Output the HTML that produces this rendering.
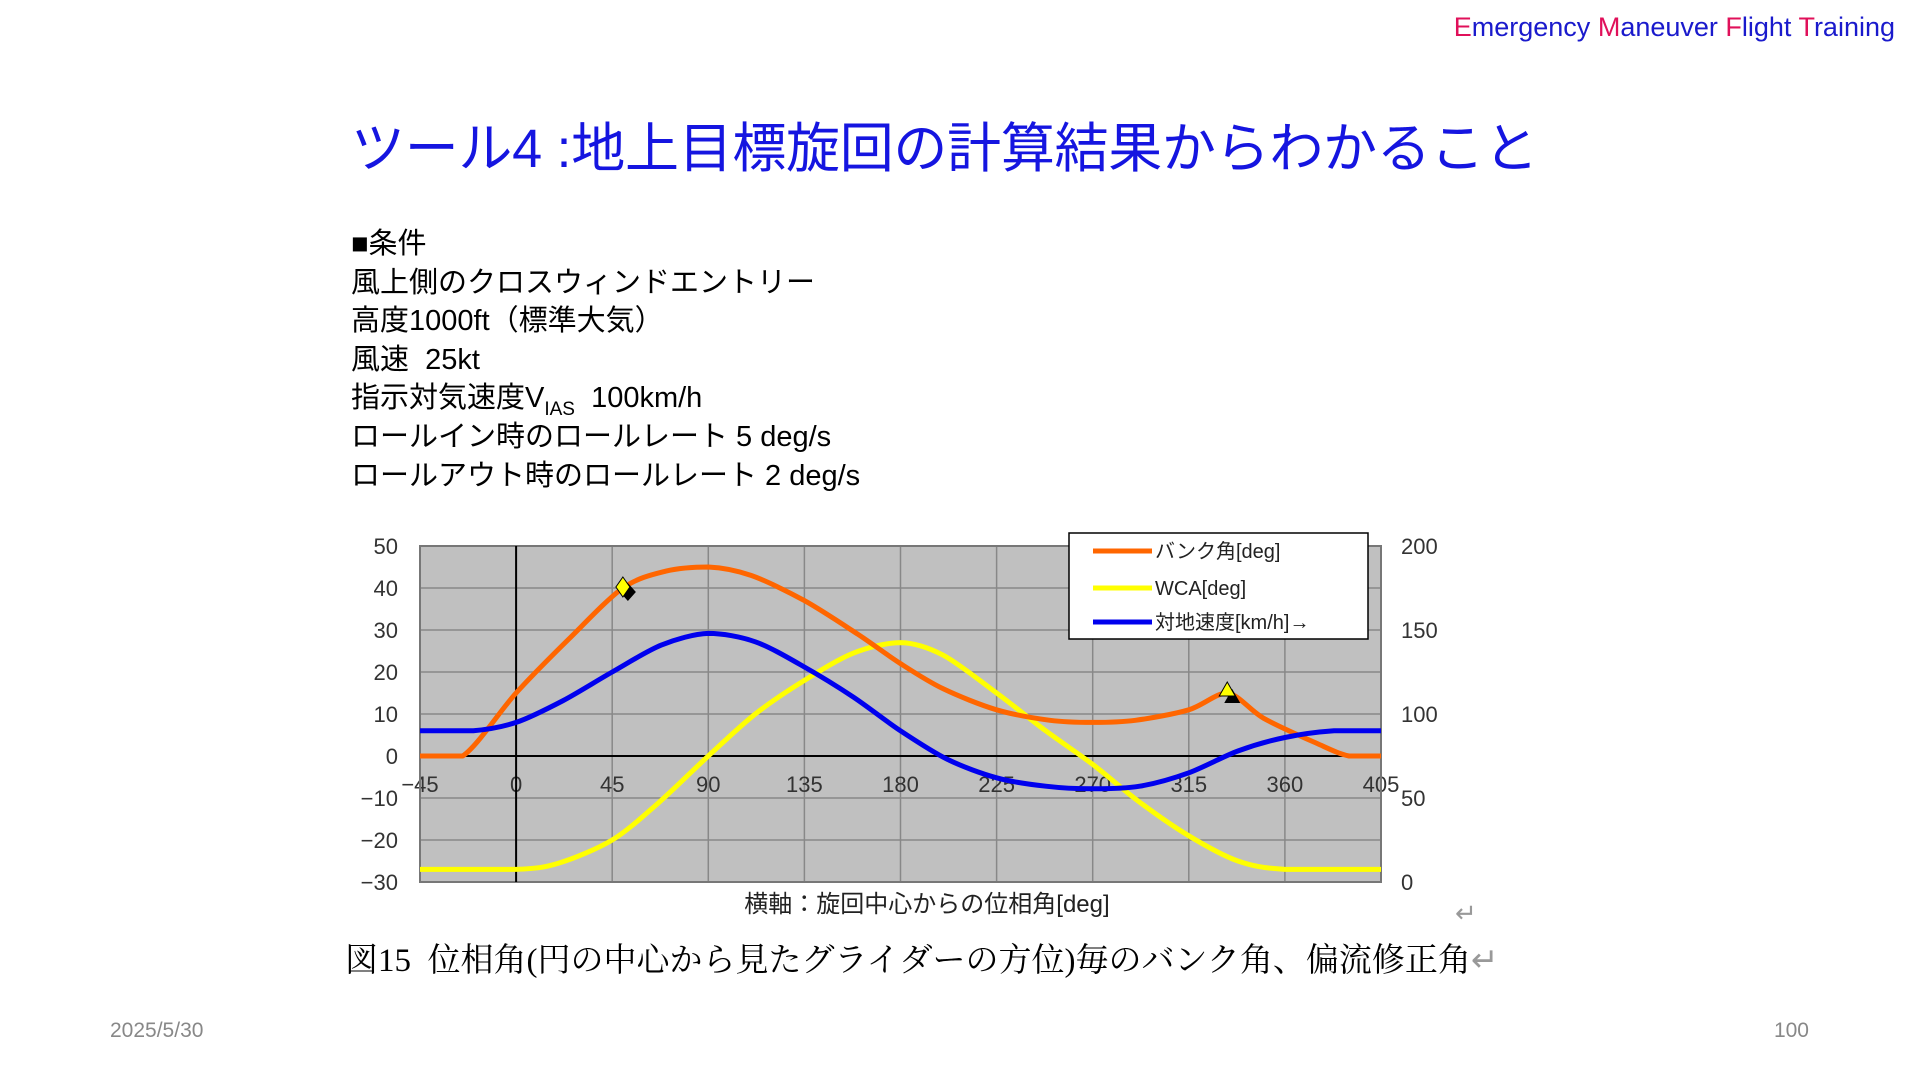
<!DOCTYPE html>
<html><head><meta charset="utf-8">
<style>
body{margin:0;width:1920px;height:1080px;background:#fff;position:relative;overflow:hidden;font-family:"Liberation Sans","Noto Sans CJK JP",sans-serif}
.abs{position:absolute;white-space:nowrap}
#hdr{right:25px;top:12px;font-size:27px;color:#1a1acc}
#hdr .r{color:#e0105a}
#title{left:351px;top:117px;font-size:54px;color:#1515e0;line-height:64px;letter-spacing:-0.3px}
#cond{left:351px;top:225px;font-size:29px;line-height:38.6px;color:#000}
#cond sub{font-size:19px;vertical-align:-8px;line-height:0}
#caption{left:345px;top:934px;font-size:33px;font-family:"Liberation Serif","Noto Serif CJK SC",serif;color:#000}
.gray{color:#999}
#date{left:110px;top:1019px;font-size:21px;color:#888}
#page{right:111px;top:1019px;font-size:21px;color:#888}
</style></head><body>
<div class="abs" id="hdr"><span class="r">E</span>mergency <span class="r">M</span>aneuver <span class="r">F</span>light <span class="r">T</span>raining</div>
<div class="abs" id="title">ツール4 :地上目標旋回の計算結果からわかること</div>
<div class="abs" id="cond">■条件<br>風上側のクロスウィンドエントリー<br>高度1000ft（標準大気）<br>風速&nbsp;&nbsp;25kt<br>指示対気速度V<sub>IAS</sub>&nbsp;&nbsp;100km/h<br>ロールイン時のロールレート 5 deg/s<br>ロールアウト時のロールレート 2 deg/s</div>
<svg id="chart" class="abs" style="left:0;top:0" width="1920" height="1080"></svg>
<div class="abs" id="caption">図15&nbsp;&nbsp;位相角(円の中心から見たグライダーの方位)毎のバンク角、偏流修正角<span class="gray">↵</span></div>
<div class="abs gray" style="left:1455px;top:898px;font-size:26px">↵</div>
<div class="abs" id="date">2025/5/30</div>
<div class="abs" id="page">100</div>
<script>
const xTicks=[-45,0,45,90,135,180,225,270,315,360,405];
const yLeftTicks=[50,40,30,20,10,0,-10,-20,-30];
const yRightTicks=[200,150,100,50,0];
const bankX=[-45,-25,0,25,50,70,90,110,135,160,180,200,225,250,270,290,315,333,350,375,390,405];
const bankY=[0,0,15,28,40,44,45,43,37,29,22,16,11,8.5,8,8.5,11,15,9,3,0,0];
const wcaX=[-45,0,20,45,67,90,112,135,158,180,200,225,248,270,292,315,338,360,405];
const wcaY=[-27,-27,-25.5,-20,-11,0,10,18,24.5,27,24,15,6,-2,-11,-19,-25,-27,-27];
const gsX=[-45,-20,0,22,45,68,90,112,135,158,180,202,225,248,270,292,315,338,360,383,405];
const gsY=[90,90,95,108,125,141,148,143,128,110,90,73,62,57,55.5,57,65,78,86,90,90];
const legendLabels=["バンク角[deg]","WCA[deg]","対地速度[km/h]→"];
const diamondPt=[50,40];
const trianglePt=[333,15];

const L=420,R=1381,T=546,B=882;
const sx=v=>L+(v+45)/450*(R-L);
const sy=v=>T+(50-v)/80*(B-T);
const sy2=v=>T+(200-v)/200*(B-T);
const svg=document.getElementById('chart');
const NS='http://www.w3.org/2000/svg';
function mk(tag,attrs,parent){const e=document.createElementNS(NS,tag);for(const k in attrs)e.setAttribute(k,attrs[k]);(parent||svg).appendChild(e);return e;}
const F='"Liberation Sans","Noto Sans CJK JP",sans-serif';

let bg=mk('rect',{x:L,y:T,width:R-L,height:B-T,fill:'#c0c0c0'});


yLeftTicks.forEach(v=>{
  let g=mk('line',{x1:L,x2:R,y1:sy(v),y2:sy(v),stroke:'#888','stroke-width':1.5});
  
  
  let t=mk('text',{x:398,y:sy(v)+8,'text-anchor':'end','font-size':22,fill:'#333','font-family':F});
  t.textContent=String(v).replace('-','−');
  
  
});
xTicks.forEach(v=>{
  let g=mk('line',{x1:sx(v),x2:sx(v),y1:T,y2:B,stroke:'#888','stroke-width':1.5});
  
  
  let t=mk('text',{x:sx(v),y:sy(0)+36,'text-anchor':'middle','font-size':22,fill:'#333','font-family':F});
  t.textContent=String(v).replace('-','−');
  
  
});
yRightTicks.forEach(v=>{
  let t=mk('text',{x:1401,y:sy2(v)+8,'font-size':22,fill:'#333','font-family':F});
  t.textContent=v;
  
  
});
let border=mk('rect',{x:L,y:T,width:R-L,height:B-T,fill:'none',stroke:'#777','stroke-width':2});


let xa=mk('line',{x1:L,x2:R,y1:sy(0),y2:sy(0),stroke:'#000','stroke-width':2});


let ya=mk('line',{x1:sx(0),x2:sx(0),y1:T,y2:B,stroke:'#000','stroke-width':2});



function series(xs,ys,scale,color,name){
  const P=xs.map((x,i)=>[sx(x),scale(ys[i])]);
  let d='M'+P[0][0].toFixed(1)+','+P[0][1].toFixed(1);
  const cl=(v,a,b)=>Math.min(Math.max(v,Math.min(a,b)),Math.max(a,b));
  for(let i=0;i<P.length-1;i++){
    const p0=P[Math.max(0,i-1)],p1=P[i],p2=P[i+1],p3=P[Math.min(P.length-1,i+2)];
    const t=0.15;
    const c1=[p1[0]+(p2[0]-p0[0])*t,cl(p1[1]+(p2[1]-p0[1])*t,p1[1],p2[1])];
    const c2=[p2[0]-(p3[0]-p1[0])*t,cl(p2[1]-(p3[1]-p1[1])*t,p1[1],p2[1])];
    d+='C'+c1[0].toFixed(1)+','+c1[1].toFixed(1)+' '+c2[0].toFixed(1)+','+c2[1].toFixed(1)+' '+p2[0].toFixed(1)+','+p2[1].toFixed(1);
  }
  const p=mk('path',{d:d,fill:'none',stroke:color,'stroke-width':5,'stroke-linejoin':'round'});
  
  
}
series(wcaX,wcaY,sy,'#ffff00','wca-line');
series(bankX,bankY,sy,'#ff6600','bank-angle-line');
series(gsX,gsY,sy2,'#0000ee','ground-speed-line');

const dx=sx(diamondPt[0]),dy=sy(diamondPt[1]);
let d2=mk('path',{d:`M${dx+5},${dy-5}l8,9l-8,9l-8,-9z`,fill:'#000'});


let d1=mk('path',{d:`M${dx},${dy-11}l7,10l-7,10l-7,-10z`,fill:'#ffff00',stroke:'#000','stroke-width':1});


const tx=sx(trianglePt[0]),ty=sy(trianglePt[1]);
let t2=mk('path',{d:`M${tx+5},${ty-4}l8,14h-16z`,fill:'#000'});


let t1=mk('path',{d:`M${tx},${ty-11}l8,14h-16z`,fill:'#ffff00',stroke:'#000','stroke-width':1});



let lg=mk('rect',{x:1069,y:533,width:299,height:106,fill:'#fff',stroke:'#000','stroke-width':1.5});


const lcol=['#ff6600','#ffff00','#0000ee'];
const ly=[551,588,622];
legendLabels.forEach((s,i)=>{
  let l=mk('line',{x1:1093,x2:1152,y1:ly[i],y2:ly[i],stroke:lcol[i],'stroke-width':5});
  
  
  let t=mk('text',{x:1155,y:ly[i]+7,'font-size':20,fill:'#222','font-family':F});
  t.textContent=s;
  
  
});
let xt=mk('text',{x:927,y:912,'text-anchor':'middle','font-size':24,fill:'#222','font-family':F});
xt.textContent='横軸：旋回中心からの位相角[deg]';


</script>
</body></html>
